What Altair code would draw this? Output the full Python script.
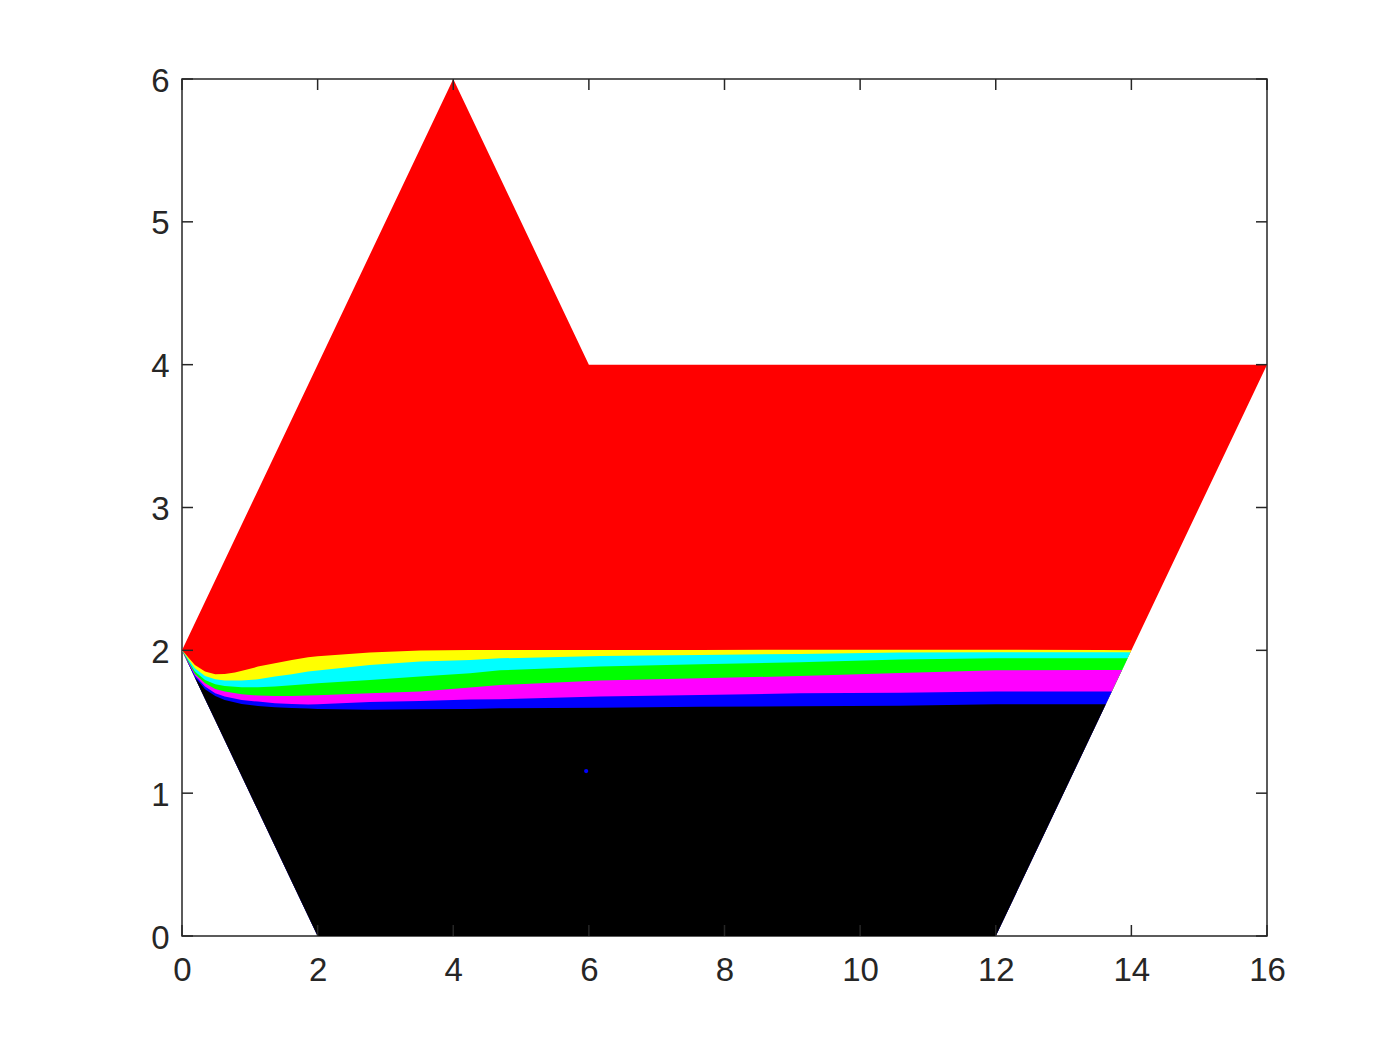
import altair as alt
import numpy as np
import pandas as pd

# Outer domain polygon, described by lower and upper edges at the vertex x-values
DOMAIN_X = [0, 2, 4, 6, 12, 16]
DOMAIN_LOW = [2, 0, 0, 0, 0, 4]
DOMAIN_HIGH = [2, 4, 6, 4, 4, 4]

# Top boundary of each coloured band
YELLOW_X = [0, 0.05, 0.19, 0.34, 0.49, 0.63, 0.78, 0.93, 1.12, 1.37, 1.62, 1.86, 2.0,
            2.77, 3.51, 4.25, 6.16, 7.64, 9.11, 10.59, 12.0, 13.54, 14.0]
YELLOW_TOP = [2.0, 1.975, 1.897, 1.851, 1.832, 1.834, 1.844, 1.862, 1.886, 1.909, 1.932, 1.951, 1.958,
              1.984, 1.998, 2.003, 2.003, 2.003, 2.004, 2.004, 2.004, 2.002, 2.0]

BAND_X = [0, 0.19, 0.34, 0.49, 0.63, 0.88, 1.12, 1.37, 1.62, 1.86, 2.0,
          2.77, 3.51, 4.25, 4.69, 6.16, 7.64, 9.11, 10.59, 12.0, 13.54]

CYAN_END = 13.986
CYAN_TOP = [2.0, 1.874, 1.820, 1.797, 1.788, 1.788, 1.797, 1.816, 1.832, 1.851, 1.858,
            1.897, 1.921, 1.932, 1.944, 1.960, 1.967, 1.975, 1.985, 1.986, 1.986, 1.986]

GREEN_END = 13.944
GREEN_TOP = [2.0, 1.851, 1.792, 1.762, 1.750, 1.741, 1.741, 1.746, 1.755, 1.764, 1.770,
             1.792, 1.816, 1.839, 1.860, 1.886, 1.902, 1.916, 1.935, 1.944, 1.944, 1.944]

MAGENTA_END = 13.862
MAGENTA_TOP = [2.0, 1.834, 1.769, 1.729, 1.711, 1.692, 1.683, 1.680, 1.680, 1.683, 1.686,
               1.699, 1.711, 1.740, 1.757, 1.788, 1.804, 1.820, 1.842, 1.860, 1.862, 1.862]

BLUE_END = 13.711
BLUE_TOP = [2.0, 1.823, 1.746, 1.699, 1.676, 1.652, 1.641, 1.629, 1.624, 1.620, 1.622,
            1.638, 1.646, 1.655, 1.658, 1.676, 1.687, 1.699, 1.703, 1.711, 1.711, 1.711]

BLACK_END = 13.622
BLACK_TOP = [2.0, 1.811, 1.727, 1.680, 1.652, 1.624, 1.610, 1.601, 1.596, 1.592, 1.590,
             1.584, 1.587, 1.590, 1.594, 1.598, 1.605, 1.608, 1.612, 1.622, 1.622, 1.622]

STRAY_X = [5.96]
STRAY_Y = [1.155]

XTICKS = [0, 2, 4, 6, 8, 10, 12, 14, 16]
YTICKS = [0, 1, 2, 3, 4, 5, 6]

W, H = 1085, 857
TICK_LEN = 11
AX_COLOR = "#262626"

xscale = alt.Scale(domain=[0, 16], nice=False, zero=False)
yscale = alt.Scale(domain=[0, 6], nice=False, zero=False)
xaxis = alt.Axis(values=XTICKS, labelPadding=18, title=None)
yaxis = alt.Axis(values=YTICKS, labelPadding=13, labelOffset=2, title=None)


def X(field):
    return alt.X(field, type="quantitative", scale=xscale, axis=xaxis)


def Y(field):
    return alt.Y(field, type="quantitative", scale=yscale, axis=yaxis)


def band(xs, tops, color):
    xs = list(xs)
    lo = np.interp(xs, DOMAIN_X, DOMAIN_LOW)
    df = pd.DataFrame({"x": xs, "lo": lo, "hi": tops})
    return alt.Chart(df).mark_area(color=color, opacity=1).encode(
        x=X("x"), y=Y("lo"), y2=alt.Y2("hi")
    )


red_df = pd.DataFrame({"x": DOMAIN_X, "lo": DOMAIN_LOW, "hi": DOMAIN_HIGH})
red = alt.Chart(red_df).mark_area(color="#FF0000", opacity=1).encode(
    x=X("x"), y=Y("lo"), y2=alt.Y2("hi")
)

layers = [
    red,
    band(YELLOW_X, YELLOW_TOP, "#FFFF00"),
    band(BAND_X + [CYAN_END], CYAN_TOP, "#00FFFF"),
    band(BAND_X + [GREEN_END], GREEN_TOP, "#00FF00"),
    band(BAND_X + [MAGENTA_END], MAGENTA_TOP, "#FF00FF"),
    band(BAND_X + [BLUE_END], BLUE_TOP, "#0000FF"),
    band(BAND_X + [BLACK_END], BLACK_TOP, "#000000"),
]

stray = alt.Chart(pd.DataFrame({"x": STRAY_X, "y": STRAY_Y})).mark_point(
    filled=True, color="#0000FF", size=18, opacity=1
).encode(x=X("x"), y=Y("y"))
layers.append(stray)

xt = pd.DataFrame({"t": XTICKS})
yt = pd.DataFrame({"t": YTICKS})
rule_kw = dict(color=AX_COLOR, strokeWidth=1.5)
layers += [
    alt.Chart(xt).mark_rule(**rule_kw).encode(x=X("t"), y=alt.value(H), y2=alt.value(H - TICK_LEN)),
    alt.Chart(xt).mark_rule(**rule_kw).encode(x=X("t"), y=alt.value(0), y2=alt.value(TICK_LEN)),
    alt.Chart(yt).mark_rule(**rule_kw).encode(y=Y("t"), x=alt.value(0), x2=alt.value(TICK_LEN)),
    alt.Chart(yt).mark_rule(**rule_kw).encode(y=Y("t"), x=alt.value(W), x2=alt.value(W - TICK_LEN)),
]

chart = alt.layer(*layers).properties(
    width=W,
    height=H,
    autosize="none",
    padding={"left": 174, "top": 71, "right": 100, "bottom": 100},
    background="white",
).configure_view(
    stroke=AX_COLOR, strokeWidth=1.5
).configure_axis(
    domain=False, grid=False, ticks=False, tickSize=0,
    labelFont="Liberation Sans", labelFontSize=33, labelColor=AX_COLOR,
    labelFlush=False, labelOverlap=False
)

chart.save("out.html", embed_options={"renderer": "svg", "actions": False})
